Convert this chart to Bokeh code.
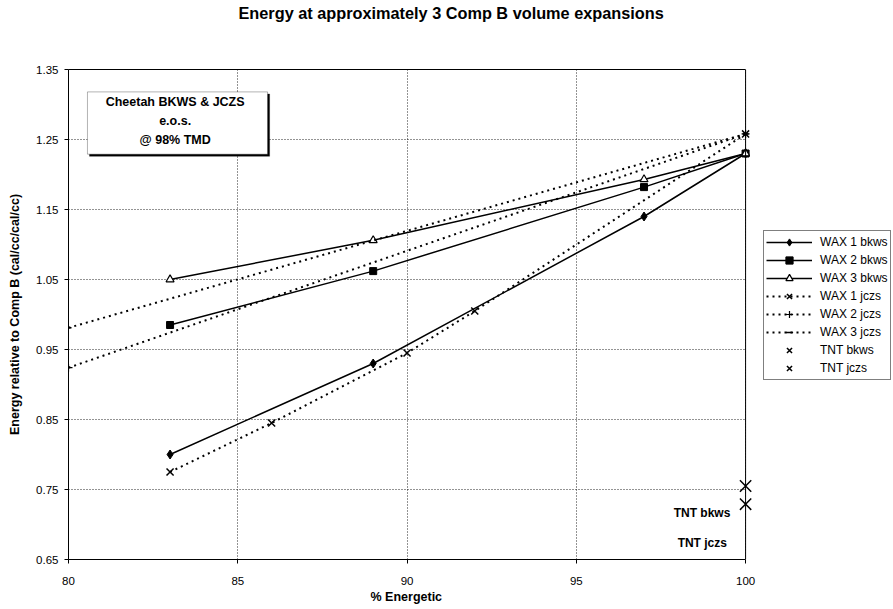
from bokeh.plotting import figure
from bokeh.models import (Range1d, FixedTicker, Legend, LegendItem, Label, LinearAxis,
                          BoxAnnotation, PrintfTickFormatter, Title, Span)
from bokeh.embed import file_html
from bokeh.resources import INLINE

# ---- data ----
x_bkws = [83, 89, 97, 100]
wax1_bkws = [0.800, 0.930, 1.140, 1.230]
wax2_bkws = [0.985, 1.062, 1.182, 1.230]
wax3_bkws = [1.050, 1.106, 1.193, 1.230]

x_wax1_jczs = [83, 86, 90, 92, 100]
wax1_jczs = [0.775, 0.845, 0.945, 1.005, 1.258]

x_wax23_jczs = [80, 100]
wax2_jczs = [0.924, 1.258]
wax3_jczs = [0.981, 1.258]

x_tnt = [100]
tnt_bkws = [0.755]
tnt_jczs = [0.729]

x_ticks = [80, 85, 90, 95, 100]
y_ticks = [0.65, 0.75, 0.85, 0.95, 1.05, 1.15, 1.25, 1.35]

X_MIN, X_MAX = 80, 100
Y_MIN, Y_MAX = 0.65, 1.35
X_VIEW_MAX = 104.31   # frame extends to the right so the legend sits inside it

FONT = "Liberation Sans"

p = figure(width=891, height=607, x_range=Range1d(X_MIN, X_VIEW_MAX), y_range=Range1d(Y_MIN, Y_MAX),
           output_backend="svg", toolbar_location=None,
           min_border_left=68, min_border_right=0, min_border_top=69, min_border_bottom=48,
           background_fill_color="white", border_fill_color="white")

p.outline_line_color = None

# ---- axes (configured before the extra top axis is added) ----
xax = p.xaxis[0]
yax = p.yaxis[0]
for ax in (xax, yax):
    ax.axis_line_color = "black"
    ax.axis_line_width = 1
    ax.major_tick_out = 4
    ax.major_tick_in = 0
    ax.minor_tick_out = 0
    ax.minor_tick_in = 0
    ax.major_tick_line_color = "black"
    ax.major_label_text_font = FONT
    ax.major_label_text_font_size = "11.5px"
    ax.major_label_text_color = "black"
    ax.axis_label_text_font = FONT
    ax.axis_label_text_font_style = "bold"
    ax.axis_label_text_color = "black"

xax.bounds = (X_MIN, X_MAX)
xax.ticker = FixedTicker(ticks=x_ticks)
xax.major_label_standoff = 13
yax.ticker = FixedTicker(ticks=y_ticks)
yax.formatter = PrintfTickFormatter(format="%.2f")
yax.axis_label = "Energy relative to Comp B (cal/cc/cal/cc)"
yax.axis_label_text_font_size = "12.5px"
yax.major_label_standoff = 6
yax.axis_label_standoff = 11

# top border of the plot area; its (blank) label reserves the gap below the title
top_axis = LinearAxis(ticker=FixedTicker(ticks=[]), bounds=(X_MIN, X_MAX),
                      axis_line_color="black", axis_line_width=1,
                      major_tick_out=0, major_tick_in=0, major_tick_line_color=None,
                      minor_tick_out=0, minor_tick_in=0, minor_tick_line_color=None,
                      major_label_standoff=0,
                      axis_label="\u00a0", axis_label_text_font_size="10px",
                      axis_label_standoff=34)
p.add_layout(top_axis, "above")
p.add_layout(Title(text="Energy at approximately 3 Comp B volume expansions",
                   text_font=FONT, text_font_style="bold", text_font_size="16.3px",
                   text_color="black", align="left", offset=170, standoff=0), "above")

# x-axis title placed under the plot area (centred on 80..100, not on the wider frame)
p.add_layout(Title(text="% Energetic", text_font=FONT, text_font_style="bold",
                   text_font_size="12.5px", text_color="black", align="left",
                   offset=302, standoff=0), "below")

# vertical grid lines (full frame height)
p.xgrid.ticker = FixedTicker(ticks=x_ticks)
p.xgrid.grid_line_color = "black"
p.xgrid.grid_line_dash = "1 2"
p.xgrid.grid_line_alpha = 0.85
p.ygrid.visible = False
# horizontal grid lines only across the plot area
p.multi_line(xs=[[X_MIN, X_MAX] for _ in y_ticks], ys=[[t, t] for t in y_ticks],
             line_color="black", line_dash="1 2", line_alpha=0.85, line_width=1)
# right border of the plot area
p.add_layout(Span(location=X_MAX, dimension="height", line_color="black", line_width=1))

# ---- series ----
items = []

l1 = p.line(x_bkws, wax1_bkws, line_color="black", line_width=1.5)
s1 = p.scatter(x_bkws, wax1_bkws, marker="diamond", size=9, fill_color="black", line_color="black")
items.append(LegendItem(label="WAX 1 bkws", renderers=[l1, s1]))

l2 = p.line(x_bkws, wax2_bkws, line_color="black", line_width=1.5)
s2 = p.scatter(x_bkws, wax2_bkws, marker="square", size=7, fill_color="black", line_color="black")
items.append(LegendItem(label="WAX 2 bkws", renderers=[l2, s2]))

l3 = p.line(x_bkws, wax3_bkws, line_color="black", line_width=1.5)
s3 = p.scatter(x_bkws, wax3_bkws, marker="triangle", size=8, fill_color="white", line_color="black", line_width=1.2)
items.append(LegendItem(label="WAX 3 bkws", renderers=[l3, s3]))

l4 = p.line(x_wax1_jczs, wax1_jczs, line_color="black", line_width=2, line_dash="2 4")
s4 = p.scatter(x_wax1_jczs, wax1_jczs, marker="x", size=10, line_color="black", line_width=1.5)
items.append(LegendItem(label="WAX 1 jczs", renderers=[l4, s4]))

l5 = p.line(x_wax23_jczs, wax2_jczs, line_color="black", line_width=2, line_dash="2 4")
s5 = p.scatter(x_wax23_jczs, wax2_jczs, marker="cross", size=8, line_color="black", line_width=1.2)
items.append(LegendItem(label="WAX 2 jczs", renderers=[l5, s5]))

l6 = p.line(x_wax23_jczs, wax3_jczs, line_color="black", line_width=2, line_dash="2 4")
s6 = p.scatter(x_wax23_jczs, wax3_jczs, marker="dash", size=6, line_color="black", line_width=1.5)
items.append(LegendItem(label="WAX 3 jczs", renderers=[l6, s6]))

s7 = p.scatter(x_tnt, tnt_bkws, marker="x", size=16, line_color="black", line_width=1.5)
items.append(LegendItem(label="TNT bkws", renderers=[s7]))
s8 = p.scatter(x_tnt, tnt_jczs, marker="x", size=16, line_color="black", line_width=1.5)
items.append(LegendItem(label="TNT jczs", renderers=[s8]))

legend = Legend(items=items, location=(695, 179), orientation="vertical",
                border_line_color="black", border_line_width=1,
                background_fill_color="white", background_fill_alpha=1,
                padding=2, spacing=0, margin=0,
                glyph_width=46, glyph_height=18, label_height=18, label_standoff=8,
                label_text_font=FONT, label_text_font_size="12px", label_text_color="black")
p.add_layout(legend, "center")

# ---- annotations ----
p.add_layout(BoxAnnotation(left=80.62, right=85.94, top=1.315, bottom=1.226,
                           fill_color="black", fill_alpha=1, line_color="black", line_width=1))
p.add_layout(BoxAnnotation(left=80.56, right=85.88, top=1.318, bottom=1.229,
                           fill_color="white", fill_alpha=1, line_color="black", line_width=1))
for txt, yy in [("Cheetah BKWS & JCZS", 1.303), ("e.o.s.", 1.276), ("@ 98% TMD", 1.250)]:
    p.add_layout(Label(x=83.15, y=yy, text=txt, text_font=FONT, text_font_style="bold",
                       text_font_size="12.5px", text_align="center", text_baseline="middle",
                       text_color="black"))

p.add_layout(Label(x=99.55, y=0.717, text="TNT bkws", text_font=FONT, text_font_style="bold",
                   text_font_size="12px", text_align="right", text_baseline="middle", text_color="black"))
p.add_layout(Label(x=99.45, y=0.674, text="TNT jczs", text_font=FONT, text_font_style="bold",
                   text_font_size="12px", text_align="right", text_baseline="middle", text_color="black"))

open("out.html", "w").write(file_html(p, INLINE))
